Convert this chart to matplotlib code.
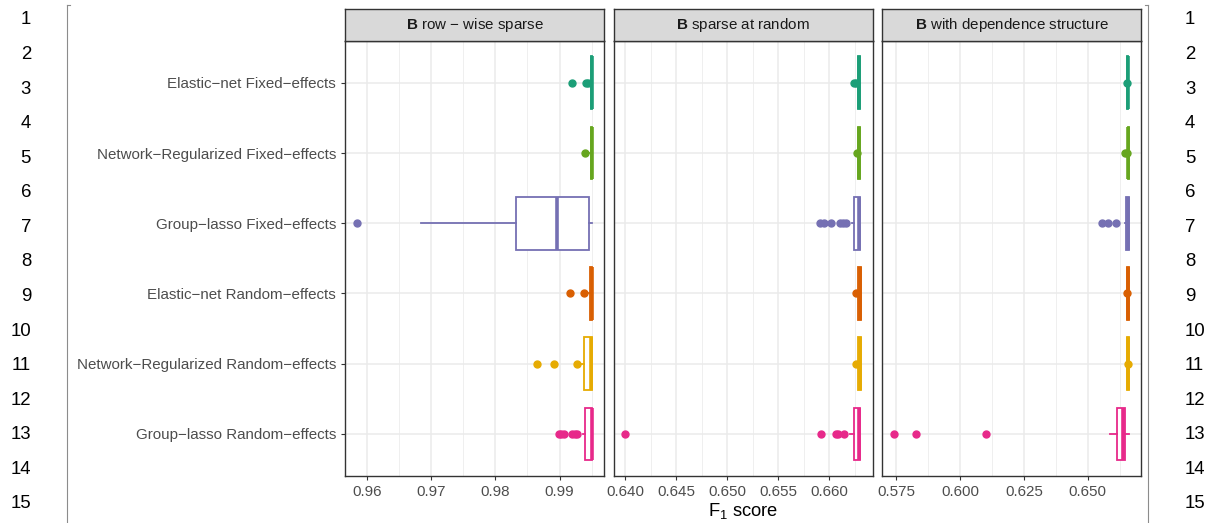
import matplotlib
matplotlib.use("Agg")
import matplotlib.pyplot as plt
import numpy as np

plt.rcParams['font.family'] = ['Liberation Sans', 'DejaVu Sans']
plt.rcParams['mathtext.fontset'] = 'custom'
plt.rcParams['mathtext.rm'] = 'Liberation Sans'
plt.rcParams['mathtext.it'] = 'Liberation Sans:italic'
plt.rcParams['mathtext.bf'] = 'Liberation Sans:bold'

# ---------------- data ----------------
methods = ["Elastic−net Fixed−effects",
           "Network−Regularized Fixed−effects",
           "Group−lasso Fixed−effects",
           "Elastic−net Random−effects",
           "Network−Regularized Random−effects",
           "Group−lasso Random−effects"]
colors = ["#1B9E77", "#66A61E", "#7570B3", "#D95F02", "#E6AB02", "#E7298A"]
panel_titles = [r"$\mathbf{B}$ row − wise sparse",
                r"$\mathbf{B}$ sparse at random",
                r"$\mathbf{B}$ with dependence structure"]

# row-wise sparse
rw_q1 = [0.9949, 0.9949, 0.98317, 0.9947, 0.9938, 0.9940]
rw_med = [0.9950, 0.9950, 0.98958, 0.9950, 0.9949, 0.9950]
rw_q3 = [0.9951, 0.9951, 0.99456, 0.9951, 0.9950, 0.9951]
rw_lo = [0.9948, 0.9948, 0.96845, 0.9946, 0.9932, 0.9937]
rw_hi = [0.9951, 0.9951, 0.99508, 0.9951, 0.9951, 0.9951]
rw_out = [[0.9920, 0.9941, 0.9944],
          [0.9940],
          [0.9584],
          [0.9916, 0.9938],
          [0.9865, 0.9892, 0.9927],
          [0.9899, 0.9903, 0.9907, 0.9920, 0.9924, 0.9927]]

# sparse at random
sr_q1 = [0.6628, 0.6628, 0.66247, 0.6628, 0.6628, 0.66247]
sr_med = [0.6629, 0.6629, 0.66295, 0.6630, 0.6630, 0.66295]
sr_q3 = [0.6630, 0.6630, 0.66302, 0.6631, 0.6631, 0.66302]
sr_lo = [0.6627, 0.6628, 0.66220, 0.6628, 0.6628, 0.66200]
sr_hi = [0.6630, 0.6630, 0.66302, 0.6631, 0.6631, 0.66302]
sr_out = [[0.6624, 0.6626],
          [0.6627],
          [0.6591, 0.6595, 0.6602, 0.6611, 0.6614, 0.6617],
          [0.6626],
          [0.6626],
          [0.6400, 0.6592, 0.6607, 0.6609, 0.6615]]

# with dependence structure
ds_q1 = [0.6654, 0.6656, 0.6652, 0.6655, 0.6655, 0.66158]
ds_med = [0.6656, 0.6658, 0.6659, 0.6658, 0.6658, 0.66366]
ds_q3 = [0.6657, 0.6660, 0.6660, 0.6660, 0.6660, 0.66471]
ds_lo = [0.6653, 0.6655, 0.6647, 0.6654, 0.6654, 0.65872]
ds_hi = [0.6658, 0.6661, 0.6661, 0.6661, 0.6661, 0.66627]
ds_out = [[0.6655],
          [0.6648, 0.6653],
          [0.6556, 0.6579, 0.6611],
          [0.6655],
          [0.6656],
          [0.57395, 0.58282, 0.60994]]

panels = [
    (rw_q1, rw_med, rw_q3, rw_lo, rw_hi, rw_out, [0.96, 0.97, 0.98, 0.99], "{:.2f}"),
    (sr_q1, sr_med, sr_q3, sr_lo, sr_hi, sr_out, [0.640, 0.645, 0.650, 0.655, 0.660], "{:.3f}"),
    (ds_q1, ds_med, ds_q3, ds_lo, ds_hi, ds_out, [0.575, 0.600, 0.625, 0.650], "{:.3f}"),
]

# ---------------- layout ----------------
W, H = 1217, 523
fig = plt.figure(figsize=(W / 100, H / 100), dpi=100)

def fx(px):
    return px / W

def fy(py):
    return 1 - py / H

panel_x = [345, 613.5, 882]
panel_w = 259
p_top, p_bot = 40.7, 476
s_top = 8.7

axis_col = "#4D4D4D"
border_col = "#333333"
grid_col = "#EBEBEB"

positions = np.arange(1, len(methods) + 1)

for k, (q1, med, q3, lo, hi, out, ticks, fmt) in enumerate(panels):
    ax = fig.add_axes([fx(panel_x[k]), fy(p_bot), panel_w / W, (p_bot - p_top) / H])
    ax.set_facecolor("white")
    # limits with 5% expansion of the data range
    allv = list(lo) + list(hi) + [v for o in out for v in o]
    vmin, vmax = min(allv), max(allv)
    rng = vmax - vmin
    ax.set_xlim(vmin - 0.05 * rng, vmax + 0.05 * rng)
    ax.set_ylim(len(methods) + 0.6, 0.4)

    # grid
    step = ticks[1] - ticks[0]
    minors = [t + step / 2 for t in ticks] + [ticks[0] - step / 2]
    xl = ax.get_xlim()
    for m in minors:
        if xl[0] < m < xl[1]:
            ax.axvline(m, color=grid_col, lw=0.55, zorder=0)
    for t in ticks:
        ax.axvline(t, color=grid_col, lw=1.1, zorder=0)
    for p in positions:
        ax.axhline(p, color=grid_col, lw=1.1, zorder=0)

    for i in range(len(methods)):
        st = [dict(q1=q1[i], med=med[i], q3=q3[i], whislo=lo[i], whishi=hi[i],
                   fliers=out[i])]
        c = colors[i]
        kw = dict(positions=[positions[i]], widths=0.75, showcaps=False,
                  patch_artist=True,
                  boxprops=dict(facecolor="white", edgecolor=c, linewidth=1.3),
                  whiskerprops=dict(color=c, linewidth=1.3),
                  medianprops=dict(color=c, linewidth=2.6),
                  flierprops=dict(marker="o", markerfacecolor=c, markeredgecolor=c,
                                  markersize=5.0, linestyle="none"),
                  manage_ticks=False)
        try:
            ax.bxp(st, orientation="horizontal", **kw)
        except TypeError:
            ax.bxp(st, vert=False, **kw)

    ax.set_xticks(ticks)
    ax.set_xticklabels([fmt.format(t) for t in ticks])
    ax.tick_params(axis="x", length=3, width=0.8, color=border_col,
                   labelcolor=axis_col, labelsize=10.9, pad=3.5)
    if k == 0:
        ax.set_yticks(positions)
        ax.set_yticklabels(methods)
        ax.tick_params(axis="y", length=3, width=0.8, color=border_col,
                       labelcolor=axis_col, labelsize=10.9, pad=3.5)
    else:
        ax.set_yticks([])
    for s in ax.spines.values():
        s.set_color(border_col)
        s.set_linewidth(1.0)

    # strip
    sax = fig.add_axes([fx(panel_x[k]), fy(p_top), panel_w / W, (p_top - s_top) / H])
    sax.set_facecolor("#D9D9D9")
    sax.set_xticks([])
    sax.set_yticks([])
    for s in sax.spines.values():
        s.set_color(border_col)
        s.set_linewidth(1.0)
    sax.text(0.5, 0.5, panel_titles[k], ha="center", va="center",
             fontsize=10.9, color="#1A1A1A", transform=sax.transAxes)

# x axis title
fig.text(fx((345 + 1141) / 2), fy(511), r"F$_1$ score", ha="center", va="center",
         fontsize=13.2, color="black")

# line numbers in margins
for n in range(1, 16):
    yy = 20 + (n - 1) * 34.57
    fig.text(fx(31), fy(yy), str(n), ha="right", va="center", fontsize=13.4, color="black")
    fig.text(fx(1185), fy(yy), str(n), ha="left", va="center", fontsize=13.4, color="black")

# margin rules
rule_col = "#8C8C8C"
fig.add_artist(plt.Line2D([fx(67), fx(67)], [fy(5), fy(523)], color=rule_col, lw=0.8))
fig.add_artist(plt.Line2D([fx(67), fx(70)], [fy(5), fy(5)], color=rule_col, lw=0.8))
fig.add_artist(plt.Line2D([fx(1147.5), fx(1147.5)], [fy(5), fy(523)], color=rule_col, lw=0.8))
fig.add_artist(plt.Line2D([fx(1144.5), fx(1147.5)], [fy(5), fy(5)], color=rule_col, lw=0.8))

fig.savefig("out.png", dpi=100)
